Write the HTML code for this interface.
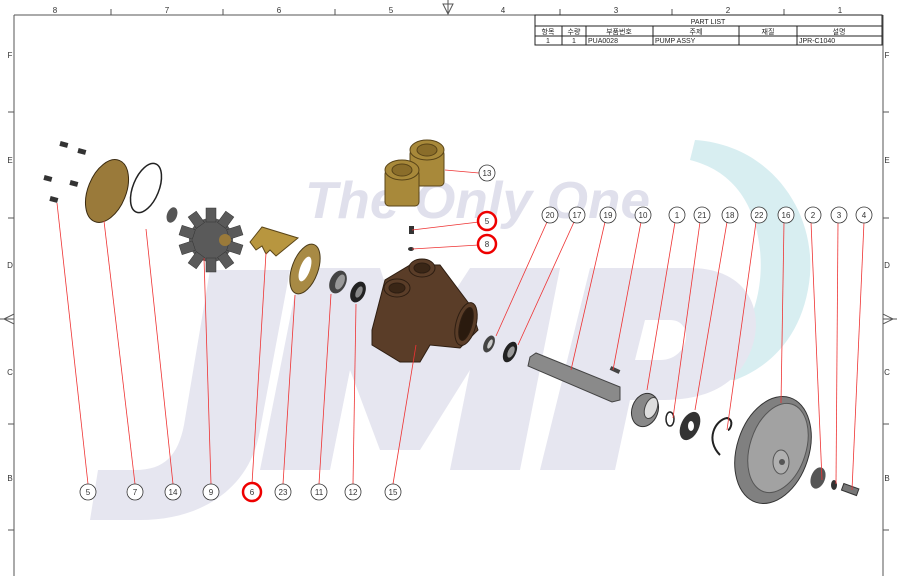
<!DOCTYPE html>
<html><head><meta charset="utf-8"><style>
html,body{margin:0;padding:0;background:#fff;}
svg{display:block;font-family:"Liberation Sans","Noto Sans CJK KR",sans-serif;}
</style></head><body>
<svg width="897" height="576" viewBox="0 0 897 576" xmlns="http://www.w3.org/2000/svg">
<!-- watermark -->
<path d="M695 140 C770 145 815 210 810 275 C805 330 775 365 735 380 L700 378 C745 350 765 300 760 250 C755 200 730 170 690 160 Z" fill="#d8eef1"/>
<g fill="#e6e6f0">
<path d="M210 270 L290 270 L260 430 C250 490 200 520 140 520 L90 520 L98 470 L135 470 C165 470 178 455 184 425 Z"/>
<path d="M300 268 L380 268 L410 360 L470 268 L560 268 L520 470 L450 470 L470 370 L420 450 L380 450 L350 370 L330 470 L260 470 Z" />
<path d="M590 268 L690 268 C760 268 770 330 740 370 C720 395 690 400 660 400 L630 400 L615 470 L540 470 Z M645 320 L635 360 L660 360 C690 360 695 320 670 320 Z" fill-rule="evenodd"/>
</g>
<text x="305" y="218" font-size="52" font-style="italic" font-weight="bold" fill="#e0e0ec" textLength="345" lengthAdjust="spacingAndGlyphs">The Only One</text>

<!-- border -->
<g stroke="#555" stroke-width="1" fill="none">
<line x1="14" y1="15" x2="14" y2="576"/>
<line x1="883" y1="15" x2="883" y2="576"/>
<line x1="14" y1="15" x2="535" y2="15"/>
<line x1="8" y1="112" x2="14" y2="112"/><line x1="8" y1="218" x2="14" y2="218"/><line x1="8" y1="424" x2="14" y2="424"/><line x1="8" y1="530" x2="14" y2="530"/>
<line x1="883" y1="112" x2="889" y2="112"/><line x1="883" y1="218" x2="889" y2="218"/><line x1="883" y1="424" x2="889" y2="424"/><line x1="883" y1="530" x2="889" y2="530"/>
<line x1="111" y1="9" x2="111" y2="15"/><line x1="223" y1="9" x2="223" y2="15"/><line x1="335" y1="9" x2="335" y2="15"/><line x1="560" y1="9" x2="560" y2="15"/><line x1="672" y1="9" x2="672" y2="15"/><line x1="784" y1="9" x2="784" y2="15"/>
<path d="M4 319 L14 314 L14 324 Z M0 319 L14 319"/>
<path d="M893 319 L883 314 L883 324 Z M897 319 L883 319"/>
<path d="M448 14 L443 4 L453 4 Z M448 0 L448 14"/>
</g>
<g font-size="8" fill="#333" text-anchor="middle">
<text x="55" y="13">8</text><text x="167" y="13">7</text><text x="279" y="13">6</text><text x="391" y="13">5</text><text x="503" y="13">4</text><text x="616" y="13">3</text><text x="728" y="13">2</text><text x="840" y="13">1</text>
<text x="10" y="58">F</text><text x="10" y="163">E</text><text x="10" y="268">D</text><text x="10" y="375">C</text><text x="10" y="481">B</text>
<text x="887" y="58">F</text><text x="887" y="163">E</text><text x="887" y="268">D</text><text x="887" y="375">C</text><text x="887" y="481">B</text>
</g>
<!-- part list -->
<g stroke="#222" stroke-width="1" fill="none">
<rect x="535" y="15" width="347" height="30"/>
<line x1="535" y1="26" x2="882" y2="26"/><line x1="535" y1="36" x2="882" y2="36"/>
<line x1="562" y1="26" x2="562" y2="45"/><line x1="586" y1="26" x2="586" y2="45"/><line x1="653" y1="26" x2="653" y2="45"/><line x1="739" y1="26" x2="739" y2="45"/><line x1="797" y1="26" x2="797" y2="45"/>
</g>
<g font-size="7" fill="#222">
<text x="708" y="24" text-anchor="middle">PART LIST</text>
<text x="548" y="34" text-anchor="middle">항목</text><text x="574" y="34" text-anchor="middle">수량</text><text x="619" y="34" text-anchor="middle">부품번호</text><text x="696" y="34" text-anchor="middle">주제</text><text x="768" y="34" text-anchor="middle">재질</text><text x="839" y="34" text-anchor="middle">설명</text>
<text x="548" y="43" text-anchor="middle">1</text><text x="574" y="43" text-anchor="middle">1</text><text x="588" y="43">PUA0028</text><text x="655" y="43">PUMP ASSY</text><text x="799" y="43">JPR-C1040</text>
</g>

<!-- parts -->
<g fill="#333">
<rect x="60" y="142" width="8" height="5" transform="rotate(15 64 144)"/><rect x="78" y="149" width="8" height="5" transform="rotate(15 82 151)"/>
<rect x="44" y="176" width="8" height="5" transform="rotate(15 48 178)"/><rect x="70" y="181" width="8" height="5" transform="rotate(15 74 183)"/>
<rect x="50" y="197" width="8" height="5" transform="rotate(15 54 199)"/>
</g>
<ellipse cx="107" cy="191" rx="19" ry="33" transform="rotate(22 107 191)" fill="#9a7a3a" stroke="#3a2a10"/>
<ellipse cx="146" cy="188" rx="13" ry="26" transform="rotate(22 146 188)" fill="none" stroke="#222" stroke-width="1.5"/>
<ellipse cx="172" cy="215" rx="5" ry="8" transform="rotate(20 172 215)" fill="#555"/>
<g transform="translate(211 240)">
<circle r="22" fill="#5a5a5a"/>
<g fill="#5a5a5a" stroke="#333" stroke-width="0.5">
<rect x="-5" y="-32" width="10" height="14" transform="rotate(0)"/><rect x="-5" y="-32" width="10" height="14" transform="rotate(36)"/><rect x="-5" y="-32" width="10" height="14" transform="rotate(72)"/><rect x="-5" y="-32" width="10" height="14" transform="rotate(108)"/><rect x="-5" y="-32" width="10" height="14" transform="rotate(144)"/><rect x="-5" y="-32" width="10" height="14" transform="rotate(180)"/><rect x="-5" y="-32" width="10" height="14" transform="rotate(216)"/><rect x="-5" y="-32" width="10" height="14" transform="rotate(252)"/><rect x="-5" y="-32" width="10" height="14" transform="rotate(288)"/><rect x="-5" y="-32" width="10" height="14" transform="rotate(324)"/>
</g>
<circle cx="14" r="6" fill="#9a7a3a"/>
</g>
<path d="M250 242 L262 227 L298 238 L276 256 L270 250 L266 254 L262 246 L256 250 Z" fill="#b8963f" stroke="#5a4518"/>
<ellipse cx="305" cy="269" rx="13" ry="26" transform="rotate(20 305 269)" fill="#a88a44" stroke="#4a3a18"/>
<ellipse cx="305" cy="269" rx="5" ry="13" transform="rotate(20 305 269)" fill="#fff"/>
<ellipse cx="338" cy="282" rx="8" ry="12" transform="rotate(25 338 282)" fill="#444"/><ellipse cx="340" cy="282" rx="4" ry="8" transform="rotate(25 340 282)" fill="#999"/>
<ellipse cx="358" cy="292" rx="7" ry="11" transform="rotate(25 358 292)" fill="#222"/><ellipse cx="359" cy="292" rx="3" ry="6" transform="rotate(25 359 292)" fill="#888"/>
<!-- brass fittings -->
<g fill="#a8893a" stroke="#5a4518">
<rect x="410" y="150" width="34" height="36" rx="4"/><ellipse cx="427" cy="150" rx="17" ry="10"/><ellipse cx="427" cy="150" rx="10" ry="6" fill="#8a6d2a"/>
<rect x="385" y="170" width="34" height="36" rx="4"/><ellipse cx="402" cy="170" rx="17" ry="10"/><ellipse cx="402" cy="170" rx="10" ry="6" fill="#8a6d2a"/>
</g>
<rect x="409" y="226" width="5" height="8" fill="#333"/><ellipse cx="411" cy="249" rx="3" ry="2" fill="#333"/>
<!-- pump body -->
<g fill="#5a3d28" stroke="#2e1e12">
<path d="M372 330 L385 280 L410 265 L440 265 L470 305 L478 330 L460 348 L430 345 L420 362 L400 362 L372 345 Z"/>
<ellipse cx="422" cy="268" rx="13" ry="9"/><ellipse cx="422" cy="268" rx="8" ry="5" fill="#3a2616"/>
<ellipse cx="397" cy="288" rx="13" ry="9"/><ellipse cx="397" cy="288" rx="8" ry="5" fill="#3a2616"/>
<ellipse cx="466" cy="324" rx="10" ry="22" transform="rotate(15 466 324)"/><ellipse cx="466" cy="324" rx="6" ry="17" transform="rotate(15 466 324)" fill="#2a1a0e"/>
</g>
<!-- shaft area -->
<ellipse cx="489" cy="344" rx="5" ry="9" transform="rotate(25 489 344)" fill="#444"/><ellipse cx="490" cy="344" rx="2" ry="5" transform="rotate(25 490 344)" fill="#ccc"/>
<ellipse cx="510" cy="352" rx="6" ry="11" transform="rotate(25 510 352)" fill="#222"/><ellipse cx="511" cy="352" rx="3" ry="6" transform="rotate(25 511 352)" fill="#999"/>
<path d="M530 357 L536 353 L620 387 L620 400 L612 402 L528 366 Z" fill="#8a8a8a" stroke="#444"/>
<rect x="610" y="368" width="10" height="4" transform="rotate(25 615 370)" fill="#444"/>
<ellipse cx="645" cy="410" rx="13" ry="17" transform="rotate(20 645 410)" fill="#888" stroke="#333"/><ellipse cx="651" cy="408" rx="6" ry="11" transform="rotate(20 651 408)" fill="#ddd" stroke="#444"/>
<ellipse cx="670" cy="419" rx="4" ry="7" fill="none" stroke="#222" stroke-width="1.5"/>
<ellipse cx="690" cy="426" rx="9" ry="15" transform="rotate(25 690 426)" fill="#333"/><ellipse cx="691" cy="426" rx="3" ry="5" fill="#fff"/>
<path d="M720 455 C705 440 715 420 727 418 C735 420 730 430 728 430" fill="none" stroke="#222" stroke-width="2"/>
<ellipse cx="773" cy="450" rx="36" ry="55" transform="rotate(18 773 450)" fill="#808080" stroke="#333"/>
<ellipse cx="778" cy="448" rx="28" ry="46" transform="rotate(18 778 448)" fill="#a2a2a2" stroke="#555"/>
<ellipse cx="781" cy="462" rx="8" ry="12" fill="#b0b0b0" stroke="#555"/><circle cx="782" cy="462" r="3" fill="#555"/>
<ellipse cx="818" cy="478" rx="7" ry="11" transform="rotate(20 818 478)" fill="#555"/>
<ellipse cx="834" cy="485" rx="3" ry="5" fill="#333"/>
<rect x="842" y="486" width="16" height="7" transform="rotate(20 850 490)" fill="#777" stroke="#333"/>

<!-- leaders -->
<g stroke="#e33" stroke-width="0.8" fill="none">
<line x1="88" y1="484" x2="57" y2="203"/><line x1="135" y1="484" x2="104" y2="221"/><line x1="173" y1="484" x2="146" y2="229"/><line x1="211" y1="484" x2="204" y2="258"/><line x1="252" y1="484" x2="266" y2="253"/><line x1="283" y1="484" x2="295" y2="295"/><line x1="319" y1="484" x2="331" y2="294"/><line x1="353" y1="484" x2="356" y2="304"/><line x1="393" y1="484" x2="416" y2="345"/>
<line x1="479" y1="173" x2="445" y2="170"/><line x1="479" y1="222" x2="412" y2="230"/><line x1="479" y1="245" x2="412" y2="249"/>
<line x1="547" y1="222" x2="496" y2="336"/><line x1="574" y1="222" x2="518" y2="345"/><line x1="605" y1="222" x2="571" y2="370"/><line x1="641" y1="222" x2="613" y2="370"/><line x1="675" y1="222" x2="647" y2="390"/><line x1="700" y1="222" x2="673" y2="418"/><line x1="727" y1="222" x2="695" y2="410"/><line x1="756" y1="222" x2="727" y2="430"/><line x1="784" y1="222" x2="781" y2="403"/><line x1="811" y1="222" x2="822" y2="480"/><line x1="838" y1="222" x2="836" y2="484"/><line x1="864" y1="222" x2="852" y2="490"/>
</g>
<!-- balloons -->
<g fill="#fff" stroke="#333" stroke-width="0.8">
<circle cx="88" cy="492" r="8"/><circle cx="135" cy="492" r="8"/><circle cx="173" cy="492" r="8"/><circle cx="211" cy="492" r="8"/><circle cx="283" cy="492" r="8"/><circle cx="319" cy="492" r="8"/><circle cx="353" cy="492" r="8"/><circle cx="393" cy="492" r="8"/>
<circle cx="487" cy="173" r="8"/>
<circle cx="550" cy="215" r="8"/><circle cx="577" cy="215" r="8"/><circle cx="608" cy="215" r="8"/><circle cx="643" cy="215" r="8"/><circle cx="677" cy="215" r="8"/><circle cx="702" cy="215" r="8"/><circle cx="730" cy="215" r="8"/><circle cx="759" cy="215" r="8"/><circle cx="786" cy="215" r="8"/><circle cx="813" cy="215" r="8"/><circle cx="839" cy="215" r="8"/><circle cx="864" cy="215" r="8"/>
</g>
<g fill="#fff" stroke="#e00" stroke-width="2.5">
<circle cx="252" cy="492" r="9"/><circle cx="487" cy="221" r="9"/><circle cx="487" cy="244" r="9"/>
</g>
<g font-size="8" fill="#333" text-anchor="middle">
<text x="88" y="495">5</text><text x="135" y="495">7</text><text x="173" y="495">14</text><text x="211" y="495">9</text><text x="252" y="495">6</text><text x="283" y="495">23</text><text x="319" y="495">11</text><text x="353" y="495">12</text><text x="393" y="495">15</text>
<text x="487" y="176">13</text><text x="487" y="224">5</text><text x="487" y="247">8</text>
<text x="550" y="218">20</text><text x="577" y="218">17</text><text x="608" y="218">19</text><text x="643" y="218">10</text><text x="677" y="218">1</text><text x="702" y="218">21</text><text x="730" y="218">18</text><text x="759" y="218">22</text><text x="786" y="218">16</text><text x="813" y="218">2</text><text x="839" y="218">3</text><text x="864" y="218">4</text>
</g>
</svg>
</body></html>
